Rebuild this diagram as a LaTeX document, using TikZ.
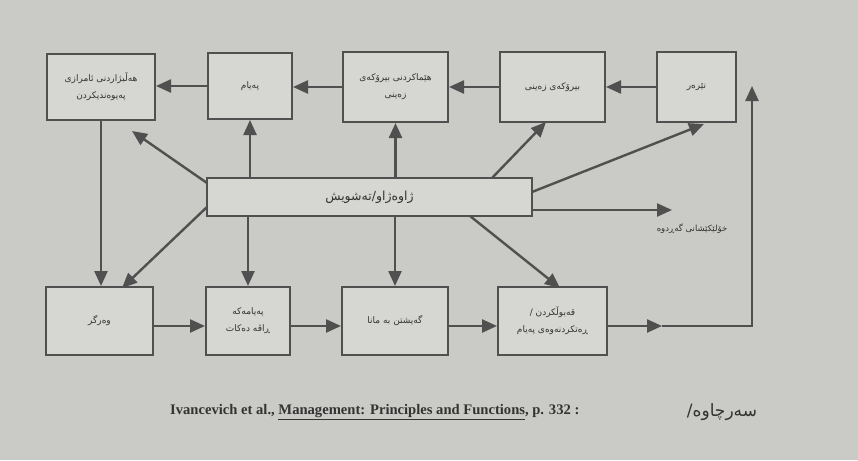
\documentclass[tikz,border=0pt]{standalone}
\usepackage{fontspec}
\setmainfont{Liberation Serif}
\newfontfamily\kurd[Script=Arabic]{DejaVu Sans}
\TeXXeTstate=1
\usetikzlibrary{arrows.meta}
\newcommand{\ku}[1]{{\kurd\beginR #1\endR}}
\definecolor{bgc}{RGB}{202,202,198}
\definecolor{boxc}{RGB}{214,214,210}
\definecolor{linec}{RGB}{80,80,80}
\begin{document}
\begin{tikzpicture}[x=1pt,y=-1pt,
  box/.style={draw=linec,line width=2pt,fill=boxc,align=center,inner sep=2pt,
    font=\fontsize{9}{17}\selectfont,text=black!80},
  conn/.style={draw=linec,line width=2.4pt,-{Triangle[length=15pt,width=13pt]}}]
\fill[bgc] (0,0) rectangle (858,460);
\useasboundingbox (0,0) rectangle (858,460);
% top row
\node[box,minimum width=108pt,minimum height=65pt] (b1) at (101,87) {\ku{هەڵبژاردنی ئامرازی}\\\ku{پەیوەندیکردن}};
\node[box,minimum width=84pt,minimum height=66pt] (b2) at (250,86) {\ku{پەیام}};
\node[box,minimum width=105pt,minimum height=70pt] (b3) at (395.5,87) {\ku{هێماکردنی بیرۆکەی}\\\ku{زەینی}};
\node[box,minimum width=105pt,minimum height=70pt] (b4) at (552.5,87) {\ku{بیرۆکەی زەینی}};
\node[box,minimum width=79pt,minimum height=70pt] (b5) at (696.5,87) {\ku{نێرەر}};
% noise
\node[box,minimum width=325pt,minimum height=38pt,font=\fontsize{12.5}{14}\selectfont] (nz) at (369.5,197) {\ku{ژاوەژاو/تەشویش}};
% bottom row
\node[box,minimum width=107pt,minimum height=68pt] (c1) at (99.5,321) {\ku{وەرگر}};
\node[box,minimum width=84pt,minimum height=68pt] (c2) at (248,321) {\ku{پەیامەکە}\\\ku{ڕاڤە دەکات}};
\node[box,minimum width=106pt,minimum height=68pt] (c3) at (395,321) {\ku{گەیشتن بە مانا}};
\node[box,minimum width=109pt,minimum height=68pt] (c4) at (552.5,321) {\ku{قەبوڵکردن /}\\\ku{ڕەتکردنەوەی پەیام}};
% top row arrows
\draw[conn] (b5.west) -- (b4.east);
\draw[conn] (b4.west) -- (b3.east);
\draw[conn] (b3.west) -- (b3.west -| b2.east);
\draw[conn] (b2.west) -- (b2.west -| b1.east);
\draw[conn] (b1.south) -- (b1.south |- c1.north);
% bottom row arrows
\draw[conn] ([yshift=-5pt]c1.east) -- ([yshift=-5pt]c2.west);
\draw[conn] ([yshift=-5pt]c2.east) -- ([yshift=-5pt]c3.west);
\draw[conn] ([yshift=-5pt]c3.east) -- ([yshift=-5pt]c4.west);
\coordinate (fm) at (662,326);
\coordinate (fc) at (752,326);
\coordinate (ft) at (752,86);
\draw[conn] ([yshift=-5pt]c4.east) -- (fm);
\draw[conn] (fm) -- (fc) -- (ft);
% noise arrows
\coordinate (n1s) at (207,183);
\coordinate (n1e) at (132,131);
\coordinate (n4s) at (492,178);
\coordinate (n4e) at (546,122);
\coordinate (n5s) at (532,192);
\coordinate (n5e) at (704,124);
\coordinate (nrs) at (532,210);
\coordinate (nre) at (672,210);
\coordinate (m1s) at (207,207);
\coordinate (m1e) at (122,288);
\coordinate (m4s) at (470,216);
\coordinate (m4e) at (560,288);
\draw[conn] (n1s) -- (n1e);
\draw[conn] (b2.south |- nz.north) -- (b2.south);
\draw[conn] (b3.south |- nz.north) -- (b3.south);
\draw[conn] (n4s) -- (n4e);
\draw[conn] (n5s) -- (n5e);
\draw[conn] (nrs) -- (nre);
\draw[conn] (m1s) -- (m1e);
\draw[conn] (c2.north |- nz.south) -- (c2.north);
\draw[conn] (c3.north |- nz.south) -- (c3.north);
\draw[conn] (m4s) -- (m4e);
\node[font=\fontsize{8.5}{10}\selectfont,text=black!80] (nl) at (692,229) {\ku{خۆلێکێشانی گەڕدوە}};
% source
\node[font=\fontsize{14.6}{16}\selectfont\bfseries,text=black!80,anchor=west,inner sep=0pt] (src) at (170,412) {Ivancevich et al., \underline{Management: Principles and Functions}, p. 332 :};
\node[font=\fontsize{17}{19}\selectfont,text=black!80] (srk) at (722,412) {\ku{سەرچاوە/}};
\end{tikzpicture}
\end{document}
